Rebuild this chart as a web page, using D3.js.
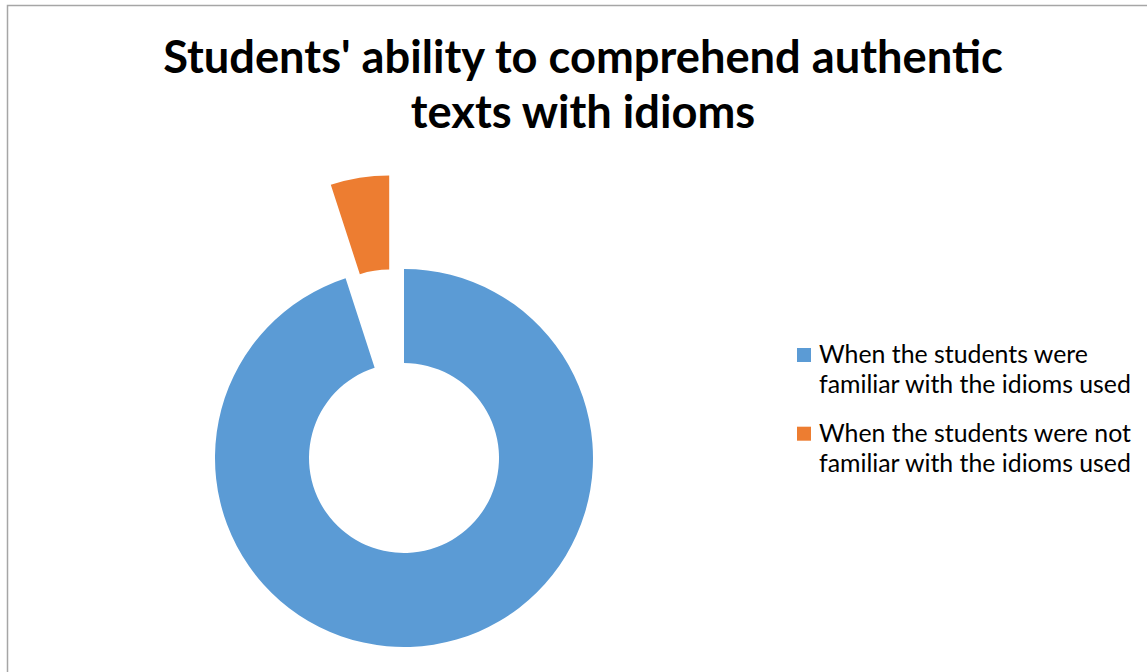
<!DOCTYPE html>
<html>
<head>
<meta charset="utf-8">
<script src="https://cdn.jsdelivr.net/npm/d3@7"></script>
<style>
  html, body { margin: 0; padding: 0; background: #fff; }
  svg { display: block; }
</style>
</head>
<body>
<svg id="chart" width="1147" height="672"></svg>
<script>
const categories = [
  "When the students were familiar with the idioms used",
  "When the students were not familiar with the idioms used"
];
const values = [95, 5];
const colors = ["#5B9BD5", "#ED7D31"];
const exploded = [0, 1]; // fraction of hole-to-outer explosion flag
const titleLines = ["Students' ability to comprehend authentic", "texts with idioms"];
const legendLines = [
  ["When the students were", "familiar with the idioms used"],
  ["When the students were not", "familiar with the idioms used"]
];

const svg = d3.select("#chart");
const W = 1147, H = 672;

// border (right/bottom are cut off in the reference)
svg.append("rect")
  .attr("x", 7.5).attr("y", 5.5)
  .attr("width", W + 10).attr("height", H + 10)
  .attr("fill", "#fff").attr("stroke", "#a6a6a6").attr("stroke-width", 1.5);

// title
const titleFont = "Lato, 'Open Sans', sans-serif";
const title = svg.append("g");
const t1 = title.append("text")
  .attr("x", 583).attr("y", 73)
  .attr("text-anchor", "middle")
  .style("font-family", titleFont).style("font-weight", "bold")
  .style("font-size", "38px").attr("fill", "#000")
  .text(titleLines[0]);
let w1 = t1.node().getComputedTextLength();
const tSize = 38 * 840 / w1;
t1.style("font-size", tSize + "px");
title.append("text")
  .attr("x", 583).attr("y", 128)
  .attr("text-anchor", "middle")
  .style("font-family", titleFont).style("font-weight", "bold")
  .style("font-size", tSize + "px").attr("fill", "#000")
  .text(titleLines[1]);

// donut
const cx = 404, cy = 458, R = 189, r = 95;
const explodeDist = 94.6;
const pie = d3.pie().sort(null).value(d => d);
const arc = d3.arc().innerRadius(r).outerRadius(R);
const arcs = pie(values);
const g = svg.append("g").attr("transform", `translate(${cx},${cy})`);
g.selectAll("path").data(arcs).enter().append("path")
  .attr("d", arc)
  .attr("fill", (d, i) => colors[i])
  .attr("transform", (d, i) => {
    if (!exploded[i]) return null;
    const a = (d.startAngle + d.endAngle) / 2;
    return `translate(${Math.sin(a) * explodeDist},${-Math.cos(a) * explodeDist})`;
  });

// legend
const legFont = "Lato, 'Open Sans', sans-serif";
const leg = svg.append("g");
const entryY = [363, 441.7];
let legSize = 22;
legendLines.forEach((lines, i) => {
  leg.append("rect")
    .attr("x", 797).attr("y", entryY[i] - 15)
    .attr("width", 14).attr("height", 14)
    .attr("fill", colors[i]);
  lines.forEach((ln, j) => {
    leg.append("text")
      .attr("class", "legtext")
      .attr("x", 819).attr("y", entryY[i] + j * 30)
      .style("font-family", legFont)
      .style("font-size", legSize + "px")
      .attr("fill", "#000")
      .text(ln);
  });
});
// fit width of "familiar with the idioms used" to ~312px
const probe = leg.selectAll("text.legtext").filter((d, i) => i === 1).node();
const pw = probe.getComputedTextLength();
legSize = legSize * 312 / pw;
leg.selectAll("text.legtext").style("font-size", legSize + "px");
</script>
</body>
</html>
